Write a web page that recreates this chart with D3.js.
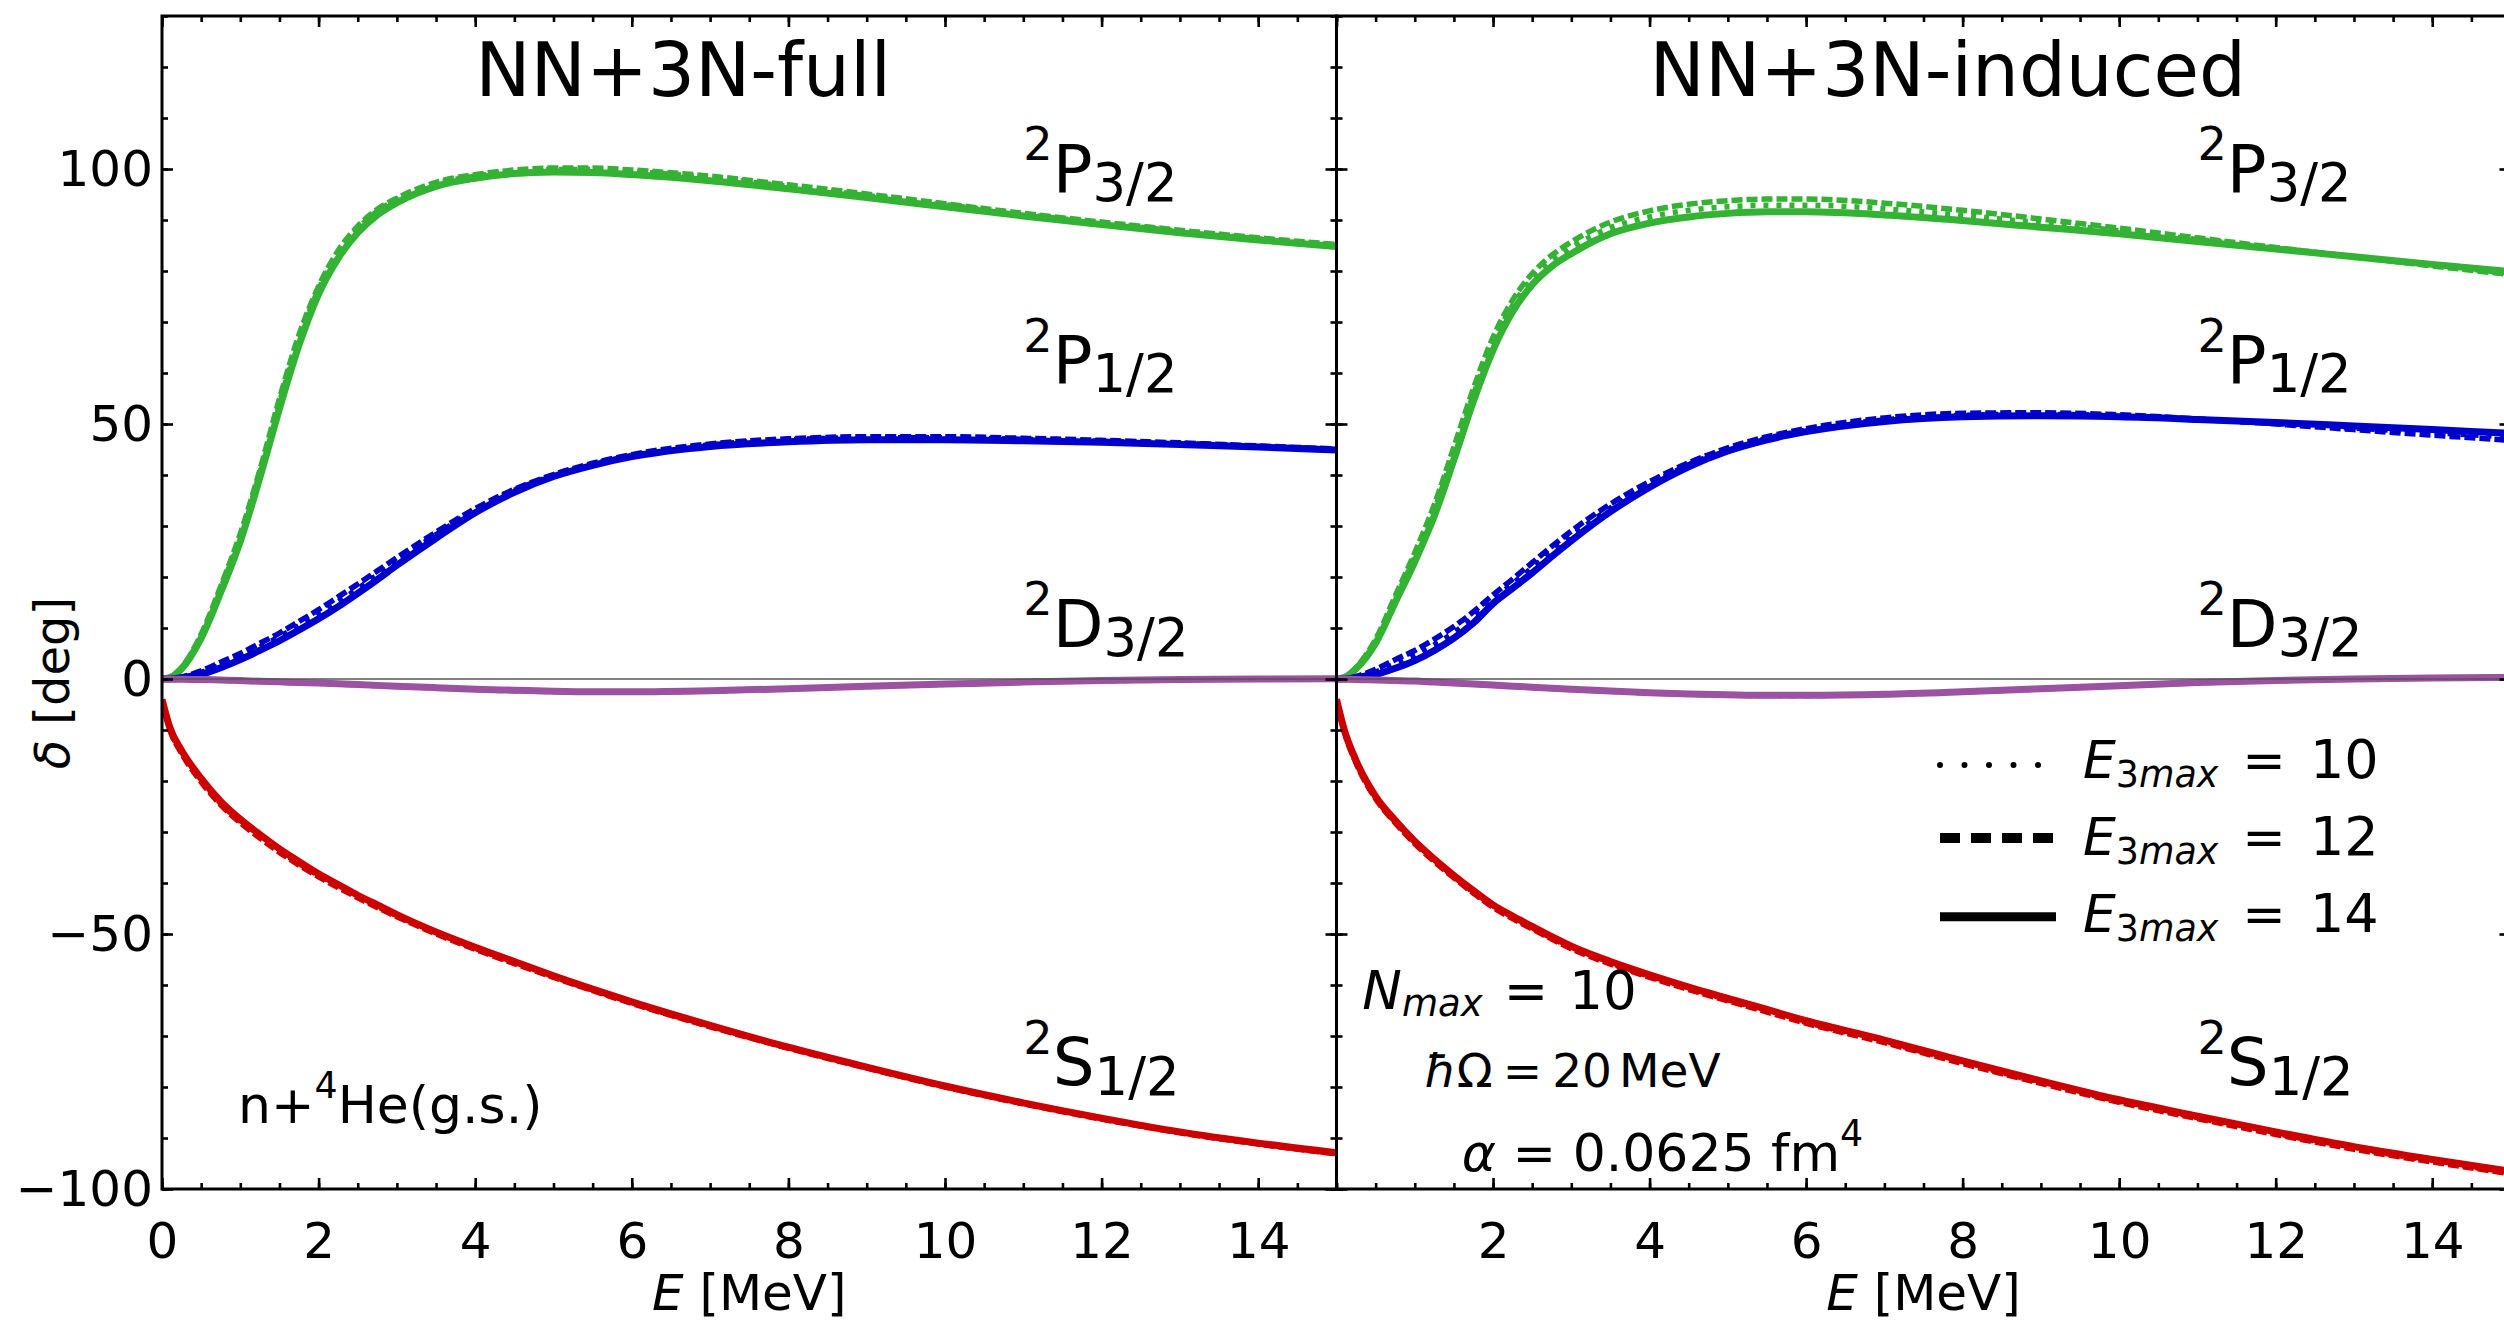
<!DOCTYPE html>
<html>
<head>
<meta charset="utf-8">
<script src="https://cdn.jsdelivr.net/npm/d3@7"></script>
<style>
  body { margin: 0; background: #fff; }
  svg { display: block; font-family: "DejaVu Sans", sans-serif; }
</style>
</head>
<body>
<svg id="chart" width="2504" height="1323"></svg>
<script>

// energy grid (MeV) shared by every curve
var energies = [0, 0.1, 0.25, 0.5, 0.75, 1, 1.25, 1.5, 1.75, 2, 2.25, 2.5, 2.75, 3, 3.5, 4, 4.5, 5, 5.5, 6, 7, 8, 9, 10, 11, 12, 13, 14, 15];

// NN+3N-full phase shifts (deg), one array per E3max
var fullP32_e10 = [0, 0.33, 2.2, 8.5, 17.8, 27.9, 40.4, 54.2, 66.7, 76.4, 83.4, 88.3, 91.7, 94, 97.1, 98.6, 99.5, 99.9, 99.9, 99.5, 98.3, 96.6, 94.8, 93, 91.1, 89.4, 87.8, 86.3, 85];
var fullP32_e12 = [0, 0.35, 2.3, 8.8, 18.2, 28.5, 41, 55, 67.5, 77, 84, 88.8, 92.1, 94.3, 97.4, 98.9, 99.8, 100.2, 100.2, 99.8, 98.6, 96.9, 95.1, 93.2, 91.3, 89.6, 88, 86.5, 85.2];
var fullP32_e14 = [0, 0.3, 2, 8, 17, 27, 39.5, 53, 65.5, 75.5, 82.5, 87.5, 91, 93.4, 96.6, 98.2, 99.1, 99.4, 99.3, 98.9, 97.7, 96.1, 94.4, 92.6, 90.8, 89.1, 87.5, 86.1, 84.8];

var fullP12_e10 = [0, 0.03, 0.3, 1.3, 2.8, 4.4, 6.3, 8.3, 10.5, 12.8, 15.2, 17.7, 20.4, 23.1, 28.3, 33.1, 37, 39.9, 42.1, 43.8, 45.9, 46.9, 47.3, 47.3, 47, 46.6, 46.2, 45.6, 45];
var fullP12_e12 = [0, 0.04, 0.4, 1.6, 3.3, 5, 7, 9, 11.3, 13.6, 16.1, 18.6, 21.2, 23.8, 28.8, 33.4, 37.2, 40.1, 42.3, 44, 46.1, 47.1, 47.5, 47.5, 47.2, 46.8, 46.3, 45.7, 45.1];
var fullP12_e14 = [0, 0.02, 0.2, 0.9, 2.2, 3.8, 5.6, 7.5, 9.6, 11.8, 14.2, 16.8, 19.5, 22.3, 27.6, 32.6, 36.6, 39.7, 41.9, 43.6, 45.6, 46.5, 46.9, 46.9, 46.7, 46.4, 46, 45.5, 44.9];

var fullD32_e10 = [0, 0, -0.05, -0.11, -0.21, -0.32, -0.46, -0.58, -0.72, -0.82, -0.97, -1.12, -1.27, -1.42, -1.72, -2.02, -2.25, -2.42, -2.52, -2.52, -2.32, -1.92, -1.42, -1.02, -0.62, -0.32, -0.11, 0, 0.05];
var fullD32_e12 = [0, 0, -0.05, -0.12, -0.22, -0.33, -0.48, -0.6, -0.75, -0.85, -1, -1.15, -1.3, -1.45, -1.75, -2.05, -2.3, -2.45, -2.55, -2.55, -2.35, -1.95, -1.45, -1.05, -0.65, -0.35, -0.12, 0, 0.05];
var fullD32_e14 = [0, 0, -0.05, -0.1, -0.2, -0.3, -0.45, -0.55, -0.7, -0.8, -0.95, -1.1, -1.25, -1.4, -1.7, -2, -2.2, -2.4, -2.5, -2.5, -2.3, -1.9, -1.4, -1, -0.6, -0.3, -0.1, 0, 0.05];

var fullS12_e10 = [-4.1, -9.8, -14.4, -19.9, -24.4, -27.9, -30.9, -33.7, -36.2, -38.5, -40.6, -42.7, -44.6, -46.4, -49.8, -52.8, -55.6, -58.4, -61, -63.5, -68.1, -72.3, -76.2, -79.9, -83.2, -86.2, -88.9, -91.1, -93];
var fullS12_e12 = [-4.2, -10, -14.6, -20.2, -24.7, -28.2, -31.2, -34, -36.5, -38.8, -40.9, -42.9, -44.8, -46.6, -50, -53, -55.8, -58.5, -61.1, -63.6, -68.2, -72.4, -76.3, -80, -83.3, -86.3, -89, -91.2, -93.1];
var fullS12_e14 = [-4, -9.5, -14, -19.5, -24, -27.5, -30.5, -33.3, -35.8, -38.2, -40.3, -42.4, -44.3, -46.2, -49.6, -52.6, -55.4, -58.2, -60.8, -63.3, -67.9, -72.2, -76.1, -79.8, -83.1, -86.1, -88.8, -91, -92.9];

// NN+3N-induced phase shifts (deg)
var indP32_e10 = [0, 0.33, 2.2, 7.4, 15.7, 23.9, 33.2, 44.3, 55.8, 65.8, 73.2, 78.4, 82, 84.6, 88.5, 90.6, 91.9, 92.6, 92.9, 92.9, 92.2, 90.9, 89.4, 87.9, 86.2, 84.5, 82.8, 81.1, 79.6];
var indP32_e12 = [0, 0.35, 2.3, 7.8, 16.3, 24.8, 34.2, 45.5, 57, 67, 74.3, 79.5, 83.1, 85.7, 89.6, 91.8, 93.1, 93.8, 94.1, 94.1, 93.3, 91.9, 90.2, 88.4, 86.5, 84.6, 82.8, 81, 79.3];
var indP32_e14 = [0, 0.3, 2, 7, 15, 23, 32, 43, 54.5, 64.5, 72, 77.3, 80.9, 83.4, 87.3, 89.4, 90.6, 91.3, 91.6, 91.6, 91, 89.9, 88.6, 87.3, 85.8, 84.3, 82.8, 81.3, 79.9];

var indP12_e10 = [0, 0.04, 0.35, 1.4, 3, 4.6, 6.7, 9.1, 12.1, 15.6, 18.7, 21.8, 25, 28, 33.5, 38.1, 42, 45, 47.2, 48.8, 50.8, 51.7, 51.9, 51.6, 50.9, 50.1, 49.2, 48.3, 47.5];
var indP12_e12 = [0, 0.05, 0.5, 1.9, 3.8, 5.6, 7.8, 10.3, 13.2, 16.5, 19.6, 22.8, 26, 29, 34.3, 38.7, 42.4, 45.3, 47.5, 49.1, 51.2, 52.1, 52.2, 51.8, 51, 50, 48.9, 47.8, 46.8];
var indP12_e14 = [0, 0.02, 0.2, 0.9, 2.1, 3.6, 5.6, 8, 11, 14.8, 17.8, 20.8, 24, 27.1, 32.8, 37.6, 41.6, 44.7, 46.9, 48.5, 50.5, 51.4, 51.6, 51.4, 50.9, 50.3, 49.6, 48.9, 48.2];

var indD32_e10 = [0, 0, -0.1, -0.2, -0.31, -0.42, -0.62, -0.82, -1.02, -1.22, -1.42, -1.63, -1.83, -2.03, -2.38, -2.72, -2.97, -3.12, -3.22, -3.22, -3.02, -2.52, -1.92, -1.32, -0.72, -0.32, 0, 0.2, 0.3];
var indD32_e12 = [0, 0, -0.1, -0.21, -0.32, -0.43, -0.63, -0.83, -1.03, -1.23, -1.44, -1.65, -1.85, -2.05, -2.4, -2.74, -2.99, -3.14, -3.24, -3.24, -3.04, -2.54, -1.94, -1.34, -0.74, -0.33, -0.01, 0.2, 0.3];
var indD32_e14 = [0, 0, -0.1, -0.2, -0.3, -0.4, -0.6, -0.8, -1, -1.2, -1.4, -1.6, -1.8, -2, -2.35, -2.7, -2.95, -3.1, -3.2, -3.2, -3, -2.5, -1.9, -1.3, -0.7, -0.3, 0, 0.2, 0.3];

var indS12_e10 = [-4.1, -10.2, -16.3, -23.3, -28, -32.1, -35.6, -38.8, -41.8, -44.6, -46.8, -48.8, -50.8, -52.7, -55.7, -58.3, -60.7, -62.9, -65.1, -67.3, -71.1, -75.2, -79.1, -82.8, -86, -89.1, -92, -94.5, -96.8];
var indS12_e12 = [-4.2, -10.4, -16.5, -23.5, -28.2, -32.3, -35.8, -39, -42, -44.8, -47, -49, -51, -52.9, -55.9, -58.5, -60.9, -63.1, -65.3, -67.5, -71.3, -75.4, -79.3, -83, -86.2, -89.3, -92.2, -94.7, -97];
var indS12_e14 = [-4, -10, -16, -23, -27.7, -31.8, -35.3, -38.5, -41.5, -44.3, -46.5, -48.5, -50.5, -52.4, -55.4, -58, -60.4, -62.6, -64.8, -67, -70.8, -74.9, -78.8, -82.5, -85.7, -88.8, -91.7, -94.2, -96.5];

// axes ticks
var xMajorTicks = [0, 2, 4, 6, 8, 10, 12, 14];
var xMajorTicksRight = [2, 4, 6, 8, 10, 12, 14];
var yMajorTicks = [-100, -50, 0, 50, 100];
var legendLabels = ["10", "12", "14"];

var colors = { P32: "#33b233", P12: "#0000cc", D32: "#9b52a0", S12: "#cc0000" };

var svg = d3.select("#chart");

var plotTop = 16, plotBottom = 1189;
var y = d3.scaleLinear().domain([-100, 130]).range([plotBottom, plotTop]);

var styles = {
  e10: { width: 5.5, dash: "5 8" },
  e12: { width: 5.5, dash: "11 4" },
  e14: { width: 7, dash: null }
};

var panels = [
  { id: "full", left: 162, right: 1336.5, title: "NN+3N-full", xticks: xMajorTicks, yLabels: true,
    waves: [
      { key: "P32", e10: fullP32_e10, e12: fullP32_e12, e14: fullP32_e14 },
      { key: "P12", e10: fullP12_e10, e12: fullP12_e12, e14: fullP12_e14 },
      { key: "D32", e10: fullD32_e10, e12: fullD32_e12, e14: fullD32_e14 },
      { key: "S12", e10: fullS12_e10, e12: fullS12_e12, e14: fullS12_e14 }
    ] },
  { id: "induced", left: 1336.5, right: 2510.5, title: "NN+3N-induced", xticks: xMajorTicksRight, yLabels: false,
    waves: [
      { key: "P32", e10: indP32_e10, e12: indP32_e12, e14: indP32_e14 },
      { key: "P12", e10: indP12_e10, e12: indP12_e12, e14: indP12_e14 },
      { key: "D32", e10: indD32_e10, e12: indD32_e12, e14: indD32_e14 },
      { key: "S12", e10: indS12_e10, e12: indS12_e12, e14: indS12_e14 }
    ] }
];

// mathtext-like helper: parts = [{t, sup|sub, it, dx}]
function mathText(parent, x, yy, parts, size, anchor, subScale) {
  var txt = parent.append("text").attr("x", x).attr("y", yy)
    .attr("font-size", size).attr("text-anchor", anchor || "start").attr("fill", "#000");
  var cur = 0;
  parts.forEach(function(p) {
    var shift = 0, fs = size;
    if (p.sup) { shift = -size * 0.48; fs = size * 0.7; }
    if (p.sub) { shift = size * 0.14; fs = size * (subScale || 0.7); }
    txt.append("tspan").attr("dy", shift - cur).attr("dx", p.dx || 0).attr("font-size", fs)
      .attr("font-style", p.it ? "italic" : "normal")
      .attr("xml:space", "preserve")
      .text(p.t);
    cur = shift;
  });
  return txt;
}

var defs = svg.append("defs");

panels.forEach(function(p) {

  var x = d3.scaleLinear().domain([0, 15]).range([p.left, p.right]);
  var g = svg.append("g").attr("class", "panel-" + p.id);

  defs.append("clipPath").attr("id", "clip-" + p.id)
    .append("rect").attr("x", p.left).attr("y", plotTop)
    .attr("width", p.right - p.left).attr("height", plotBottom - plotTop);

  var plot = g.append("g").attr("clip-path", "url(#clip-" + p.id + ")");

  var line = d3.line()
    .x(function(d) { return x(d[0]); })
    .y(function(d) { return y(d[1]); })
    .curve(d3.curveMonotoneX);

  p.waves.forEach(function(w) {
    ["e10", "e12", "e14"].forEach(function(k) {
      var pts = energies.map(function(e, i) { return [e, w[k][i]]; });
      plot.append("path")
        .attr("d", line(pts))
        .attr("fill", "none")
        .attr("stroke", colors[w.key])
        .attr("stroke-width", styles[k].width)
        .attr("stroke-dasharray", styles[k].dash)
        .attr("stroke-linejoin", "round");
    });
  });

  // zero line
  plot.append("line")
    .attr("x1", x(0)).attr("x2", x(15))
    .attr("y1", y(0)).attr("y2", y(0))
    .attr("stroke", "#555").attr("stroke-width", 1.6);

  // axes: major and minor ticks on all four sides, pointing inward
  function styleAxis(sel) {
    sel.select(".domain").remove();
    sel.selectAll(".tick line").attr("stroke", "#000").attr("stroke-width", 2.6);
    sel.selectAll(".tick text").attr("font-size", 50).attr("fill", "#000")
      .attr("font-family", "DejaVu Sans, sans-serif");
  }
  var xMinor = d3.range(0, 15.01, 0.5);
  var yMinor = d3.range(-100, 130.1, 10);

  g.append("g").attr("transform", "translate(0," + plotBottom + ")")
    .call(d3.axisBottom(x).tickValues(p.xticks).tickSize(-11).tickPadding(33).tickFormat(d3.format("d")))
    .call(styleAxis);
  g.append("g").attr("transform", "translate(0," + plotBottom + ")")
    .call(d3.axisBottom(x).tickValues(xMinor).tickSize(-6).tickFormat(""))
    .call(styleAxis);
  g.append("g").attr("transform", "translate(0," + plotTop + ")")
    .call(d3.axisTop(x).tickValues(xMajorTicks).tickSize(-11).tickFormat(""))
    .call(styleAxis);
  g.append("g").attr("transform", "translate(0," + plotTop + ")")
    .call(d3.axisTop(x).tickValues(xMinor).tickSize(-6).tickFormat(""))
    .call(styleAxis);

  g.append("g").attr("transform", "translate(" + p.left + ",0)")
    .call(d3.axisLeft(y).tickValues(yMajorTicks).tickSize(-11).tickPadding(9)
      .tickFormat(p.yLabels ? d3.format("d") : ""))
    .call(styleAxis);
  g.append("g").attr("transform", "translate(" + p.left + ",0)")
    .call(d3.axisLeft(y).tickValues(yMinor).tickSize(-6).tickFormat(""))
    .call(styleAxis);
  g.append("g").attr("transform", "translate(" + p.right + ",0)")
    .call(d3.axisRight(y).tickValues(yMajorTicks).tickSize(-11).tickFormat(""))
    .call(styleAxis);
  g.append("g").attr("transform", "translate(" + p.right + ",0)")
    .call(d3.axisRight(y).tickValues(yMinor).tickSize(-6).tickFormat(""))
    .call(styleAxis);

  g.append("rect")
    .attr("x", p.left).attr("y", plotTop)
    .attr("width", p.right - p.left).attr("height", plotBottom - plotTop)
    .attr("fill", "none").attr("stroke", "#000").attr("stroke-width", 3);

  // title
  g.append("text").attr("x", x(4)).attr("y", 96)
    .attr("font-size", 74).attr("fill", "#000").text(p.title);

  // partial wave labels
  var lab = [
    { y: 95.5, l: "P", s: "3/2" },
    { y: 58, l: "P", s: "1/2" },
    { y: 6.3, l: "D", s: "3/2" },
    { y: -79.7, l: "S", s: "1/2" }
  ];
  lab.forEach(function(d) {
    mathText(g, x(11), y(d.y), [{ t: "2", sup: true }, { t: d.l }, { t: d.s, sub: true }], 66, "start", 0.8);
  });

  // x label
  mathText(g, (p.left + p.right) / 2, 1310, [{ t: "E", it: true }, { t: " [MeV]" }], 50, "middle");

  if (p.id == "full") {
    mathText(g, x(0.97), y(-87), [{ t: "n+" }, { t: "4", sup: true }, { t: "He(g.s.)" }], 52);
  } else {
    mathText(g, x(0.33), y(-64.7), [{ t: "N", it: true }, { t: "max", sub: true, it: true }, { t: "=", dx: 21 }, { t: "10", dx: 21 }], 53);
    mathText(g, x(1.12), y(-80), [{ t: "ħ", it: true }, { t: "Ω" }, { t: "=", dx: 10 }, { t: "20", dx: 10 }, { t: "MeV", dx: 7 }], 47);
    mathText(g, x(1.6), y(-96.5), [{ t: "α", it: true }, { t: " = 0.0625 fm" }, { t: "4", sup: true }], 52);

    // legend
    var rows = [
      { y: 778, line: 765, label: legendLabels[0], dash: "0 24.5", w: 6, cap: "round", x2: 2040 },
      { y: 855, line: 838, label: legendLabels[1], dash: "20 11", w: 10, cap: "butt", x2: 2053 },
      { y: 931.7, line: 916.7, label: legendLabels[2], dash: null, w: 9, cap: "butt", x2: 2056 }
    ];
    var lg = g.append("g").attr("class", "legend");
    rows.forEach(function(r) {
      lg.append("line").attr("x1", 1940).attr("x2", r.x2)
        .attr("y1", r.line).attr("y2", r.line)
        .attr("stroke", "#000").attr("stroke-width", r.w)
        .attr("stroke-dasharray", r.dash).attr("stroke-linecap", r.cap);
      var t = lg.append("text").attr("x", 2083).attr("y", r.y).attr("font-size", 52).attr("fill", "#000");
      t.append("tspan").attr("font-style", "italic").text("E");
      t.append("tspan").attr("font-size", 36.4).attr("dy", 9).text("3");
      t.append("tspan").attr("font-size", 36.4).attr("font-style", "italic").text("max");
      t.append("tspan").attr("dy", -9).attr("dx", 24).text("=");
      t.append("tspan").attr("dx", 24).attr("font-size", 54).text(r.label);
    });
  }
});

// y axis label
svg.append("text")
  .attr("transform", "translate(69,683) rotate(-90)")
  .attr("text-anchor", "middle").attr("font-size", 48).attr("fill", "#000")
  .call(function(t) {
    t.append("tspan").attr("font-style", "italic").text("δ");
    t.append("tspan").attr("xml:space", "preserve").text(" [deg]");
  });

</script>
</body>
</html>
